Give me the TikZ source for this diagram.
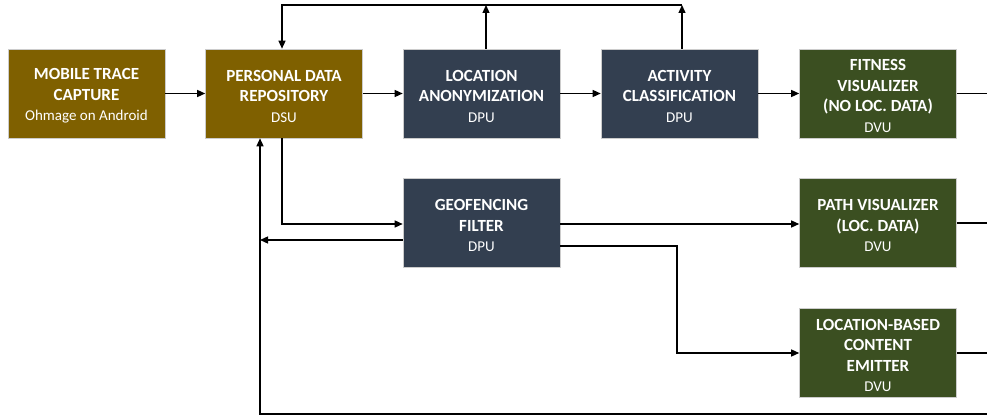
\documentclass[tikz,border=0pt]{standalone}
\usepackage{fontspec}
\setmainfont{Carlito}
\usetikzlibrary{arrows.meta}

\definecolor{dsucol}{HTML}{7F6000}
\definecolor{dpucol}{HTML}{333F50}
\definecolor{dvucol}{HTML}{3B4F21}

\newcommand\unitkind[1]{{\mdseries\fontsize{15}{20.5}\selectfont #1}}

\begin{document}
\begin{tikzpicture}[x=1pt,y=-1pt,
  unitbox/.style={minimum width=157pt, minimum height=89pt, inner sep=0pt,
    draw=gray!40, line width=0.6pt},
  unittext/.style={text=white, align=center, inner sep=0pt, yshift=-2.5pt,
    font=\fontsize{17}{20.5}\selectfont\bfseries},
  dsu/.style={unitbox, fill=dsucol, label={[unittext]center:#1}},
  dpu/.style={unitbox, fill=dpucol, label={[unittext]center:#1}},
  dvu/.style={unitbox, fill=dvucol, label={[unittext]center:#1}},
  wire/.style={line width=1.3pt, draw=black},
  flow/.style={wire, -{Triangle[length=8pt,width=7pt]}}]
\useasboundingbox (0,0) rectangle (987,417);

% units of the pipeline
\node[dsu={MOBILE TRACE\\CAPTURE\\\unitkind{Ohmage on Android}}] (mtc) at (86.5,93.5) {};
\node[dsu={PERSONAL DATA\\REPOSITORY\\\unitkind{DSU}}] (pdr) at (284,93.5) {};
\node[dpu={LOCATION\\ANONYMIZATION\\\unitkind{DPU}}] (loc) at (481.5,93.5) {};
\node[dpu={ACTIVITY\\CLASSIFICATION\\\unitkind{DPU}}] (act) at (679.5,93.5) {};
\node[dvu={FITNESS\\VISUALIZER\\(NO LOC. DATA)\\\unitkind{DVU}}] (fit) at (878,93.5) {};
\node[dpu={GEOFENCING\\FILTER\\\unitkind{DPU}}] (geo) at (481.5,223) {};
\node[dvu={PATH VISUALIZER\\(LOC. DATA)\\\unitkind{DVU}}] (pth) at (878,223) {};
\node[dvu={LOCATION-BASED\\CONTENT\\EMITTER\\\unitkind{DVU}}] (lbc) at (878,353) {};

% helper coordinates for routing
\coordinate (topline) at (0,5);
\coordinate (redge) at (987,0);
\coordinate (bottom) at (0,414);
\coordinate (retx) at (260,0);
\coordinate (splitx) at (677,0);

% main chain
\draw[flow] (mtc) -- (pdr);
\draw[flow] (pdr) -- (loc);
\draw[flow] (loc) -- (act);
\draw[flow] (act) -- (fit);
\draw[wire] (fit.east) -- (fit.east -| redge);

% feedback over the top into the repository
\coordinate (locup) at ([xshift=4.5pt]loc.north);
\coordinate (actup) at ([xshift=2.5pt]act.north);
\coordinate (pdrin) at ([xshift=-2pt]pdr.north);
\draw[flow] (locup) -- (locup |- topline);
\draw[flow] (actup) -- (actup |- topline);
\draw[flow] (actup |- topline) -- (pdrin |- topline) -- (pdrin);

% repository to geofencing filter
\coordinate (pdrout) at ([xshift=-2pt]pdr.south);
\draw[flow] (pdrout) |- ([yshift=-1pt]geo.west);

% geofencing filter outputs
\coordinate (georet) at ([yshift=-17pt]geo.west);
\draw[flow] (georet) -- (georet -| retx);
\draw[flow] ([yshift=-1pt]geo.east) -- ([yshift=-1pt]pth.west);
\coordinate (geoout) at ([yshift=-23pt]geo.east);
\draw[flow] (geoout) -- (geoout -| splitx) |- (lbc.west);
\draw[wire] (pth.east) -- (pth.east -| redge);
\draw[wire] (lbc.east) -- (lbc.east -| redge);

% return path along the bottom into the repository
\draw[flow] (redge |- bottom) -- (retx |- bottom) -- (retx |- pdr.south);
\end{tikzpicture}
\end{document}
